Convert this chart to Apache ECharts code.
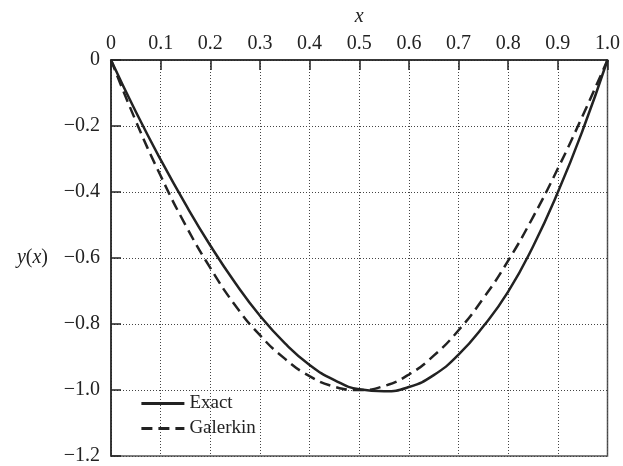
<!DOCTYPE html>
<html>
<head>
<meta charset="utf-8">
<script src="https://cdn.jsdelivr.net/npm/echarts@6/dist/echarts.min.js"></script>
<style>
  html, body { margin: 0; padding: 0; background: #fff; }
  #chart { width: 623px; height: 466px; }
</style>
</head>
<body>
<div id="chart"></div>
<script>
// x positions, read at steps of 0.05
const xs = [0, 0.05, 0.1, 0.15, 0.2, 0.25, 0.3, 0.35, 0.4, 0.45, 0.5,
  0.55, 0.6, 0.65, 0.7, 0.75, 0.8, 0.85, 0.9, 0.95, 1.0]
const exactY = [0, -0.157, -0.302, -0.437, -0.562, -0.675, -0.775, -0.858, -0.924, -0.970, -0.998,
  -1.004, -0.991, -0.955, -0.893, -0.807, -0.702, -0.565, -0.401, -0.213, 0]
const galerkinY = [0, -0.185, -0.351, -0.500, -0.630, -0.743, -0.834, -0.905, -0.958, -0.990, -1.0,
  -0.988, -0.953, -0.896, -0.819, -0.722, -0.608, -0.476, -0.329, -0.169, 0]
const xTicks = [0, 0.1, 0.2, 0.3, 0.4, 0.5, 0.6, 0.7, 0.8, 0.9, 1.0]
const yTicks = [0, -0.2, -0.4, -0.6, -0.8, -1.0, -1.2]

const FONT = '"Liberation Serif", "DejaVu Serif", serif'
const INK = '#222'

function fmtX(v) {
  if (Math.abs(v) < 1e-9) return '0'
  return v.toFixed(1)
}
function fmtY(v) {
  if (Math.abs(v) < 1e-9) return '0'
  return (v < 0 ? '\u2212' : '') + Math.abs(v).toFixed(1)
}

const chart = echarts.init(document.getElementById('chart'))
chart.setOption({
  animation: false,
  backgroundColor: '#fff',
  textStyle: { fontFamily: FONT, color: INK },
  grid: {
    left: 111, right: 13, top: 60, bottom: 8,
    show: true, borderColor: '#555', borderWidth: 1.5
  },
  legend: {
    orient: 'vertical',
    left: 135, top: 389,
    itemWidth: 43, itemHeight: 14, itemGap: 6,
    itemStyle: { opacity: 0 },
    lineStyle: { width: 2.8 },
    textStyle: { fontFamily: FONT, fontSize: 19, color: INK, lineHeight: 18 },
    data: ['Exact', 'Galerkin']
  },
  xAxis: {
    type: 'value', position: 'top',
    min: xTicks[0], max: xTicks[xTicks.length - 1], interval: 0.1,
    name: 'x', nameLocation: 'middle', nameGap: 33,
    nameTextStyle: { fontFamily: FONT, fontSize: 20, fontStyle: 'italic', color: INK },
    axisLine: { lineStyle: { color: INK, width: 1.5 } },
    axisTick: { inside: true, length: 10, lineStyle: { color: INK, width: 1.5 } },
    axisLabel: { margin: 6, fontFamily: FONT, fontSize: 20, color: INK, formatter: fmtX },
    splitLine: { show: true, lineStyle: { color: '#444', width: 1, type: [1, 2] } }
  },
  yAxis: {
    type: 'value',
    min: yTicks[yTicks.length - 1], max: yTicks[0], interval: 0.2,
    name: '{i|y}({i|x})', nameLocation: 'middle', nameGap: 63, nameRotate: 0,
    nameTextStyle: {
      fontFamily: FONT, fontSize: 20, color: INK,
      rich: { i: { fontFamily: FONT, fontSize: 20, fontStyle: 'italic', color: INK } }
    },
    axisLine: { lineStyle: { color: INK, width: 1.5 } },
    axisTick: { inside: true, length: 10, lineStyle: { color: INK, width: 1.5 } },
    axisLabel: { margin: 11, fontFamily: FONT, fontSize: 20, color: INK, formatter: fmtY },
    splitLine: { show: true, lineStyle: { color: '#444', width: 1, type: [1, 2] } }
  },
  series: [
    {
      name: 'Exact', type: 'line', smooth: true, symbol: 'none',
      data: xs.map((x, i) => [x, exactY[i]]),
      lineStyle: { color: INK, width: 2.5 },
      itemStyle: { color: INK }
    },
    {
      name: 'Galerkin', type: 'line', smooth: true, symbol: 'none',
      data: xs.map((x, i) => [x, galerkinY[i]]),
      lineStyle: { color: INK, width: 2.5, type: [11, 6] },
      itemStyle: { color: INK }
    }
  ]
})
</script>
</body>
</html>
